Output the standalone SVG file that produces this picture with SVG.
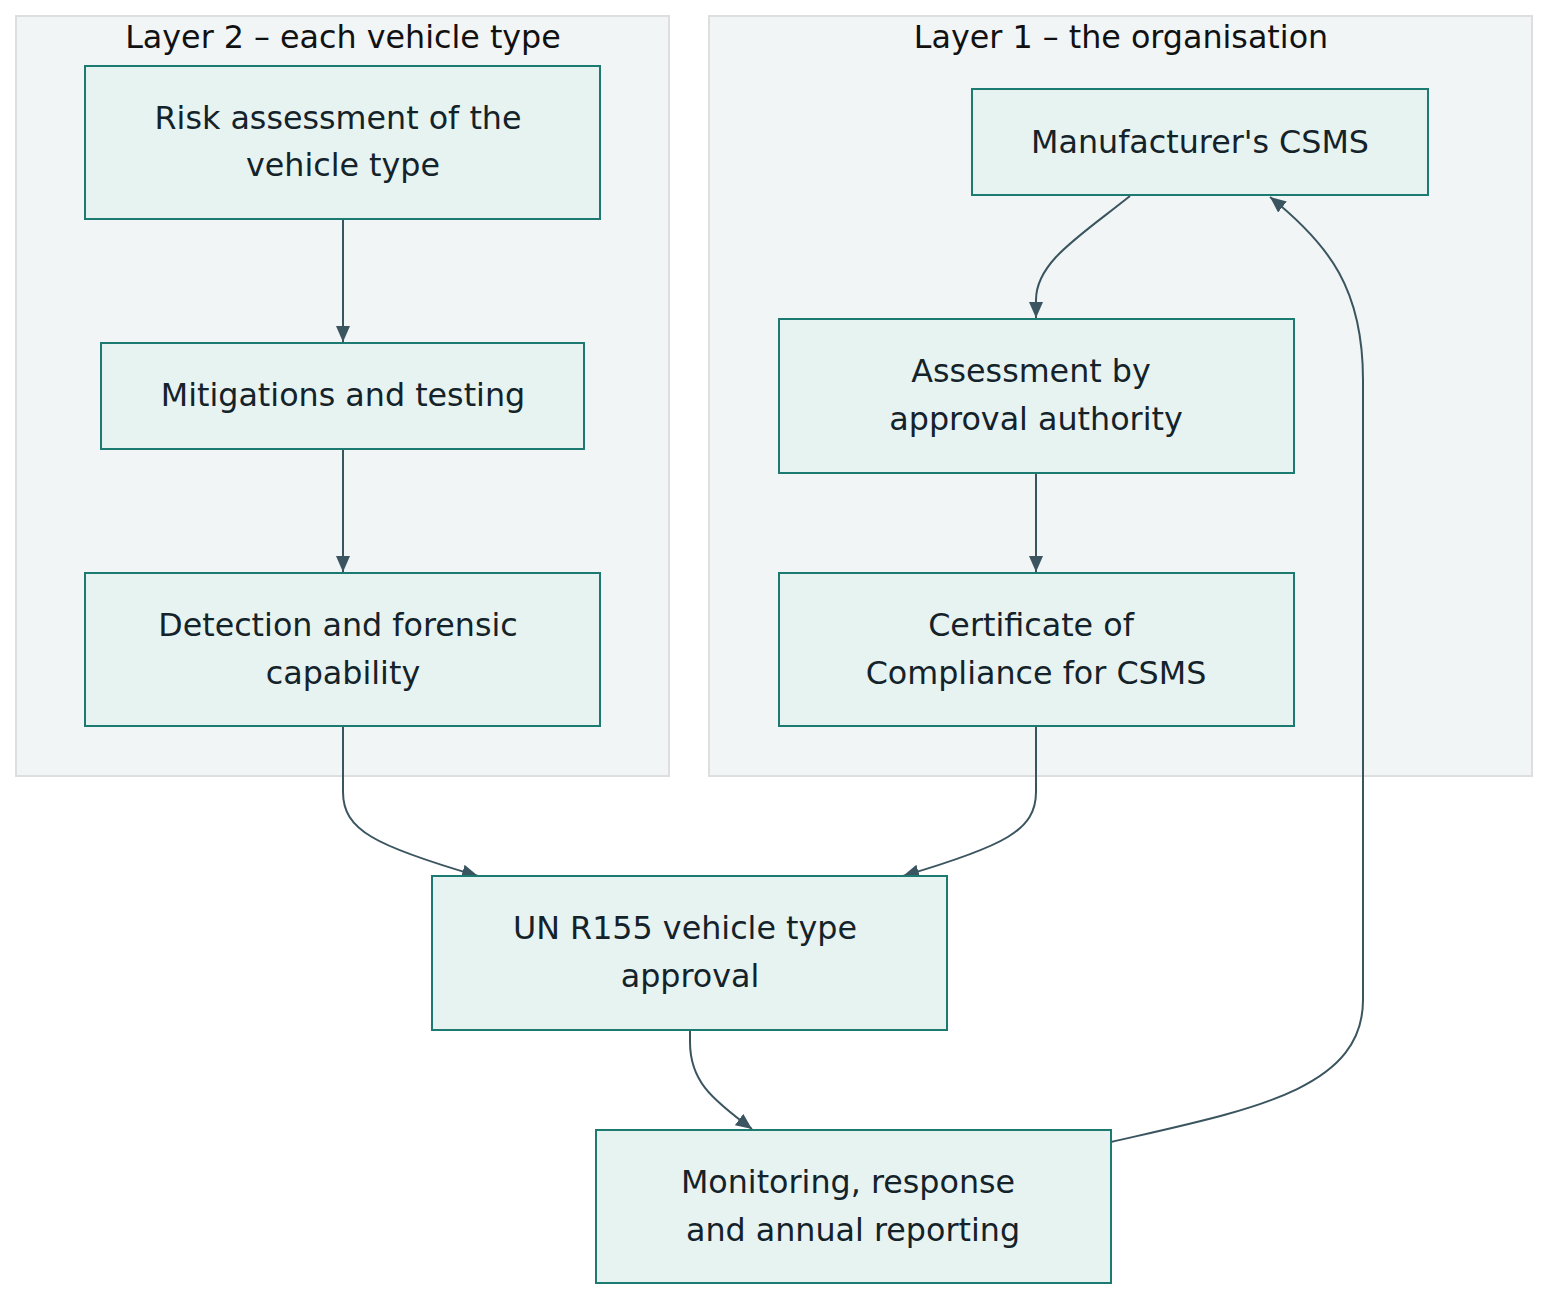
<svg xmlns="http://www.w3.org/2000/svg" width="1564" height="1312" viewBox="0 0 1564 1312">
<defs>
<marker id="arr" markerUnits="userSpaceOnUse" markerWidth="17" markerHeight="16" refX="16" refY="8" orient="auto">
<path d="M0,1 L16,8 L0,15 z" fill="#3b5560"/>
</marker>
<style>
.cl{fill:#f1f5f5;stroke:#dcdedf;stroke-width:2}
.nd{fill:#e7f3f1;stroke:#1d7a70;stroke-width:2}
.t{font-family:"DejaVu Sans",sans-serif;font-size:31.75px;fill:#14222a;text-anchor:middle}
.ct{font-family:"DejaVu Sans",sans-serif;font-size:31.75px;fill:#111;text-anchor:middle}
.e{fill:none;stroke:#3b5560;stroke-width:2;marker-end:url(#arr)}
</style>
</defs>
<rect width="1564" height="1312" fill="#ffffff"/>
<g id="layer2">
<rect class="cl" x="16" y="16" width="653" height="760"/>
<text class="ct" x="343" y="48">Layer 2 – each vehicle type</text>
</g>
<g id="layer1">
<rect class="cl" x="709" y="16" width="823" height="760"/>
<text class="ct" x="1121" y="48">Layer 1 – the organisation</text>
</g>
<g id="edges">
<path class="e" d="M343,220 L343,342"/>
<path class="e" d="M343,450 L343,572"/>
<path class="e" d="M1130,196 C1080,236 1036,262 1036,300 L1036,318"/>
<path class="e" d="M1036,474 L1036,572"/>
<path class="e" d="M343,727 L343,792 C343,830 375,846 478,876"/>
<path class="e" d="M1036,727 L1036,792 C1036,830 1005,846 903,876"/>
<path class="e" d="M690,1031 L690,1042 C690,1080 710,1098 752,1129"/>
<path class="e" d="M1111,1142 C1250,1110 1363,1090 1363,1000 L1363,380 C1363,290 1330,245 1270,197"/>
</g>
<g id="risk">
<rect class="nd" x="85" y="66" width="515" height="153"/>
<text class="t" x="338" y="129">Risk assessment of the</text>
<text class="t" x="343" y="176">vehicle type</text>
</g>
<g id="mitigations">
<rect class="nd" x="101" y="343" width="483" height="106"/>
<text class="t" x="343" y="406">Mitigations and testing</text>
</g>
<g id="detection">
<rect class="nd" x="85" y="573" width="515" height="153"/>
<text class="t" x="338" y="636">Detection and forensic</text>
<text class="t" x="343" y="684">capability</text>
</g>
<g id="csms">
<rect class="nd" x="972" y="89" width="456" height="106"/>
<text class="t" x="1200" y="153">Manufacturer's CSMS</text>
</g>
<g id="assessment">
<rect class="nd" x="779" y="319" width="515" height="154"/>
<text class="t" x="1031" y="382">Assessment by</text>
<text class="t" x="1036" y="430">approval authority</text>
</g>
<g id="certificate">
<rect class="nd" x="779" y="573" width="515" height="153"/>
<text class="t" x="1031" y="636">Certificate of</text>
<text class="t" x="1036" y="684">Compliance for CSMS</text>
</g>
<g id="r155">
<rect class="nd" x="432" y="876" width="515" height="154"/>
<text class="t" x="685" y="939">UN R155 vehicle type</text>
<text class="t" x="690" y="987">approval</text>
</g>
<g id="monitoring">
<rect class="nd" x="596" y="1130" width="515" height="153"/>
<text class="t" x="848" y="1193">Monitoring, response</text>
<text class="t" x="853" y="1241">and annual reporting</text>
</g>
</svg>
